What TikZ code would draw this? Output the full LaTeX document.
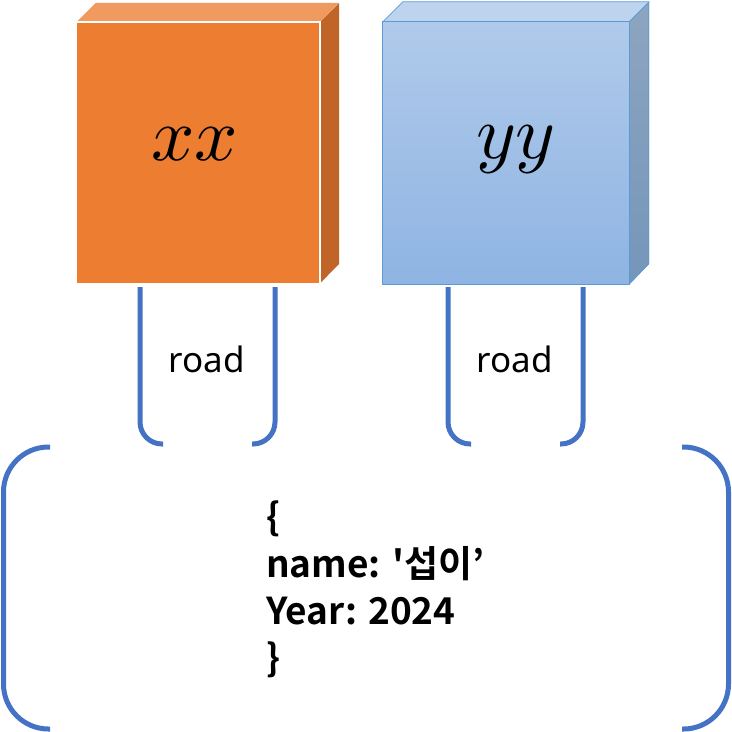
\documentclass[tikz,border=0pt]{standalone}
\usepackage{fontspec}
\setmainfont{Noto Sans}
\newfontfamily\krfont{Noto Sans CJK KR}[BoldFont={Noto Sans CJK KR Bold}]

\definecolor{boxorange}{HTML}{ED7D31}
\definecolor{orangetop}{HTML}{F19A5F}
\definecolor{orangeside}{HTML}{C16428}
\definecolor{bluefront1}{HTML}{B0CAEA}
\definecolor{bluefront2}{HTML}{8FB4E3}
\definecolor{bluetop}{HTML}{BED3EE}
\definecolor{blueside1}{HTML}{8DA5C0}
\definecolor{blueside2}{HTML}{7596BA}
\definecolor{blueedge}{HTML}{5B9BD5}
\definecolor{lineblue}{HTML}{4472C4}

\tikzset{
  frontface/.style={rectangle, inner sep=0pt},
  mathlabel/.style={inner sep=0pt, scale=7.6},
  roadline/.style={line width=5pt, lineblue, rounded corners=22pt},
  bigline/.style={line width=5pt, lineblue, rounded corners=45pt},
  roadtext/.style={inner sep=0pt, anchor=base, font=\fontsize{35}{40}\selectfont},
  jsontext/.style={inner sep=0pt, anchor=base west, font=\krfont\bfseries\fontsize{37}{44}\selectfont}
}

\begin{document}
\begin{tikzpicture}[x=1pt,y=-1pt]
    % --- 参数 ---
    \def\dOrange{19}   % 橙色立方体的厚度
    \def\dBlue{20}     % 蓝色立方体的厚度
    \useasboundingbox (0,0) rectangle (732,732);

    % --- 橙色立方体 xx ---
    \node[frontface, fill=boxorange, minimum width=243pt, minimum height=261pt] (xbox) at (198.5,152.5) {};
    \fill[orangetop] (xbox.north west) -- ++(\dOrange,-\dOrange) -- ++(243,0) -- (xbox.north east) -- cycle;
    \fill[orangeside] (xbox.north east) -- ++(\dOrange,-\dOrange) -- ++(0,261) -- (xbox.south east) -- cycle;
    \draw[white, line width=1.5pt] (xbox.north west) -- (xbox.north east) -- (xbox.south east);
    \node[mathlabel] (xlab) at (195,144) {$xx$};

    % --- 蓝色立方体 yy ---
    \node[frontface, top color=bluefront1, bottom color=bluefront2, minimum width=246pt, minimum height=262pt] (ybox) at (506,153) {};
    \fill[bluetop] (ybox.north west) -- ++(\dBlue,-\dBlue) -- ++(246,0) -- (ybox.north east) -- cycle;
    \shade[top color=blueside1, bottom color=blueside2] (ybox.north east) -- ++(\dBlue,-\dBlue) -- ++(0,262) -- (ybox.south east) -- cycle;
    \draw[blueedge, line width=0.8pt, line join=round] (ybox.north west) rectangle (ybox.south east);
    \draw[blueedge, line width=0.8pt, line join=round] (ybox.north west) -- ++(\dBlue,-\dBlue) -- ++(246,0) -- ++(0,262) -- (ybox.south east);
    \draw[blueedge, line width=0.8pt] (ybox.north east) -- ++(\dBlue,-\dBlue);
    \node[mathlabel] (ylab) at (516,150) {$yy$};

    % --- 两个 road 括号 ---
    \draw[roadline] (140,287) |- (163,444);
    \draw[roadline] (275,287) |- (252,444);
    \node[roadtext] (road1) at (207,372) {road};

    \draw[roadline] (448,287) |- (471,444);
    \draw[roadline] (583,287) |- (560,444);
    \node[roadtext] (road2) at (515,372) {road};

    % --- 下方的大括号 ---
    \draw[bigline] (50,447) -| (3.5,590) |- (50,729);
    \draw[bigline] (682,447) -| (728.5,590) |- (682,729);

    % --- 对象内容 ---
    \node[jsontext] (open)  at (266,530) {\{};
    \node[jsontext] (name)  at (266,577) {name: '섭이’};
    \node[jsontext] (year)  at (266,624) {Year: 2024};
    \node[jsontext] (close) at (266,671) {\}};

\end{tikzpicture}
\end{document}
